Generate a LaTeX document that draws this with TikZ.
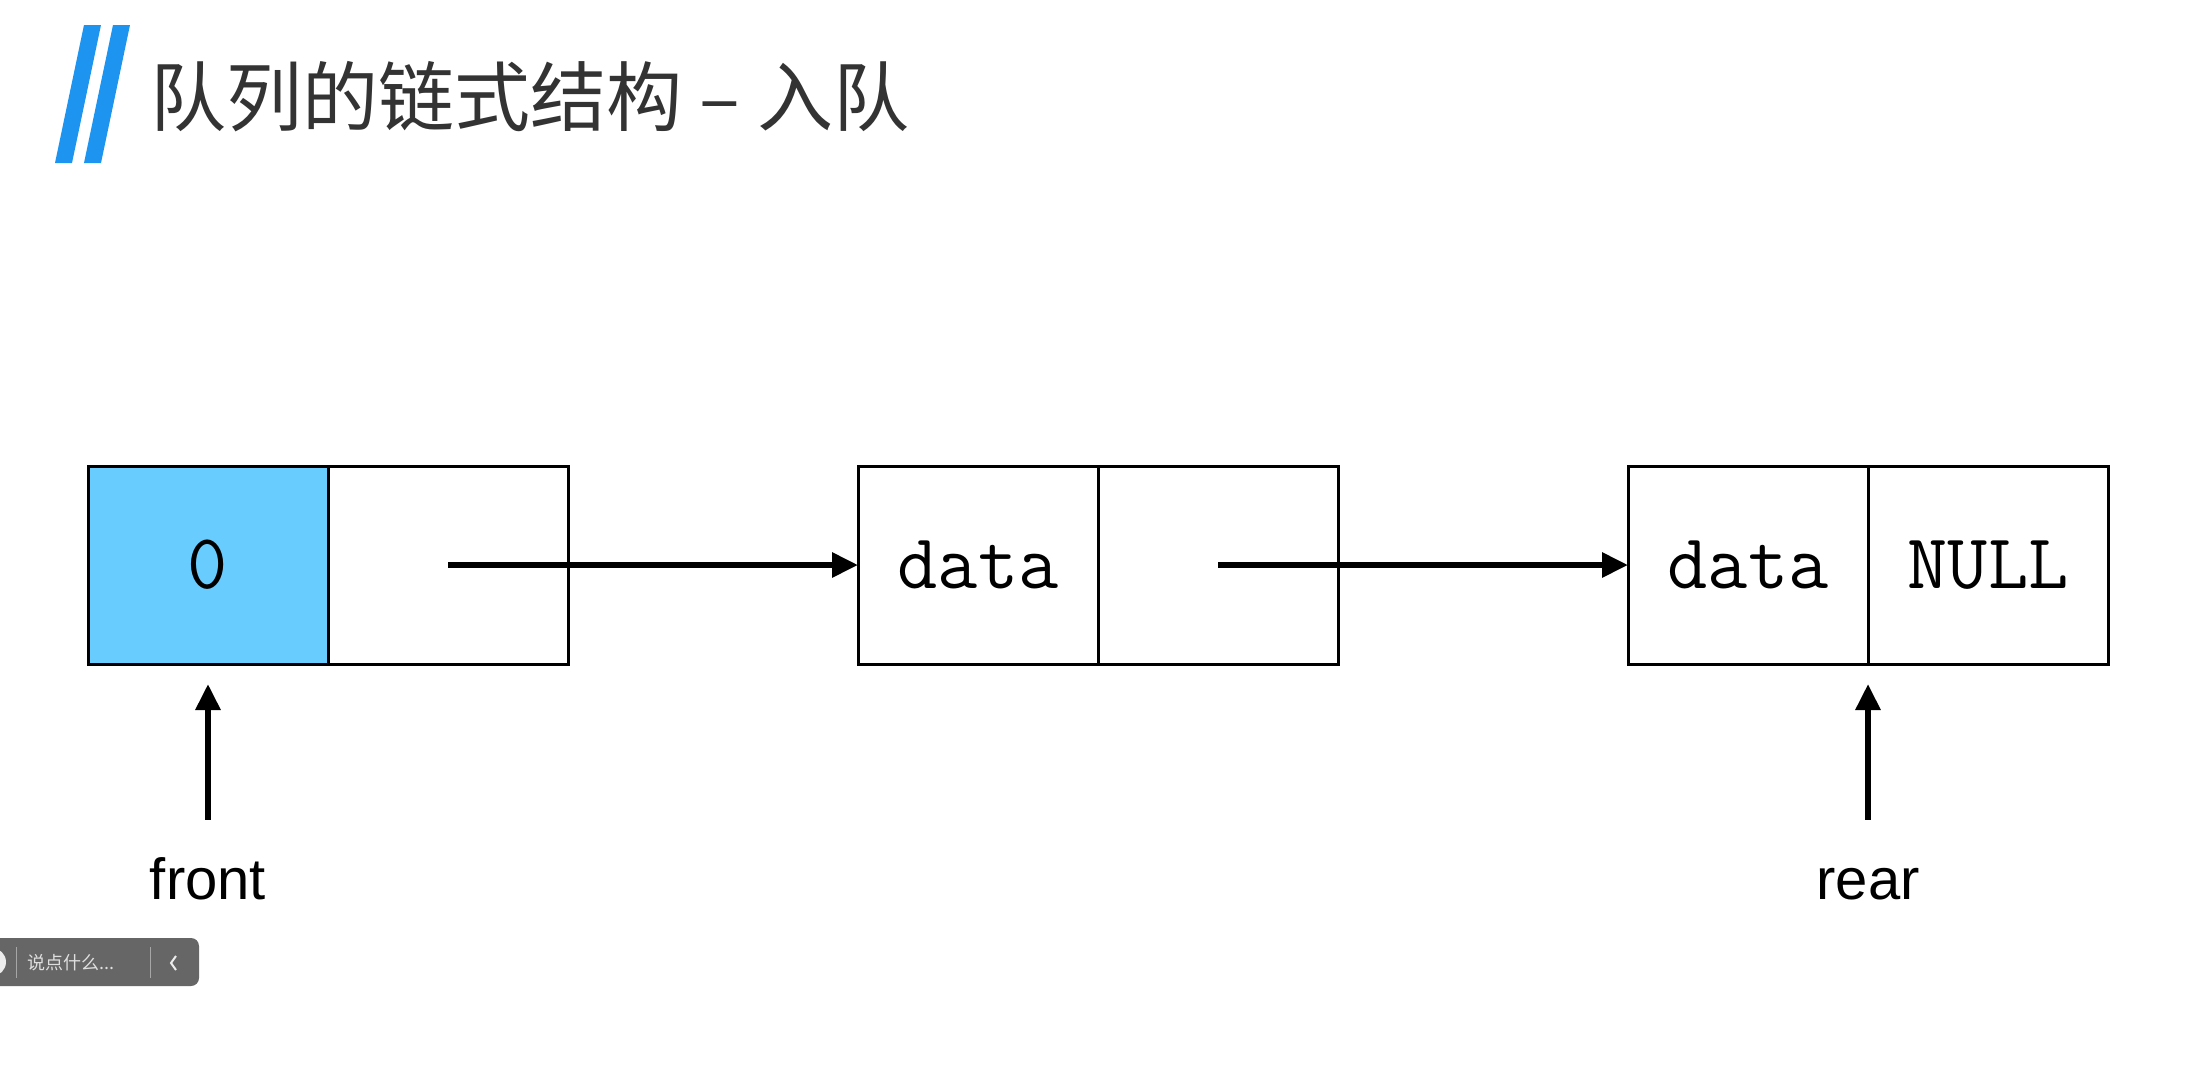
\documentclass[tikz,border=0pt]{standalone}
\usepackage{fontspec}
\setmainfont{Liberation Sans}
\newfontfamily\cjk{Noto Sans CJK SC}
\usetikzlibrary{positioning,arrows.meta}

\definecolor{barblue}{RGB}{28,148,240}
\definecolor{cellblue}{RGB}{104,204,255}
\definecolor{titlegray}{RGB}{51,51,51}
\definecolor{tipgray}{RGB}{102,102,102}

\tikzset{
  cell/.style={shape=rectangle, draw=black, line width=1.5pt, outer sep=0pt, inner sep=0pt,
    minimum width=120pt, minimum height=99pt, font=\ttfamily\fontsize{39pt}{39pt}\selectfont},
  ptr/.style={line width=3pt, -{Triangle[length=13pt,width=12pt]}},
  lbl/.style={font=\fontsize{29pt}{29pt}\selectfont, inner sep=0pt,
    text height=21pt, text depth=0pt, anchor=base},
}

\begin{document}
\begin{tikzpicture}[x=0.5pt,y=-0.5pt]
                \useasboundingbox[fill=white] (0,0) rectangle (2195,1087);

                % title
                \fill[barblue] (55,163) -- (72,163) -- (101,25) -- (84,25) -- cycle;
                \fill[barblue] (84,163) -- (101,163) -- (130,25) -- (113,25) -- cycle;
                \node[anchor=base west, inner sep=0pt, text=titlegray,
                  font=\cjk\fontsize{38pt}{38pt}\selectfont] (title) at (150,125) {队列的链式结构 – 入队};

                % queue nodes
                \node[cell, fill=cellblue] (n1data) at (208,565) {0};
                \node[cell, right=0pt of n1data] (n1next) {};
                \node[cell, right=145pt of n1next] (n2data) {data};
                \node[cell, right=0pt of n2data] (n2next) {};
                \node[cell, right=145pt of n2next] (n3data) {data};
                \node[cell, right=0pt of n3data] (n3next) {NULL};

                \draw[ptr] (n1next.center) -- (n2data.west);
                \draw[ptr] (n2next.center) -- (n3data.west);

                % pointers
                \node[lbl] (front) at (208,899) {front};
                \node[lbl] (rear) at (1868,899) {rear};

                \draw[ptr, shorten <=18.5pt, shorten >=10pt] (front.north) -- (n1data.south);
                \draw[ptr, shorten <=18.5pt, shorten >=10pt] (rear.north) -- (n3data.south east);

                % player comment bar
                \fill[tipgray, rounded corners=4pt] (-20,938) rectangle (199,986);
                \fill[white!85!gray] (-8,962) circle (7pt);
                \draw[gray!70, line width=0.5pt] (16,947) -- (16,978);
                \draw[gray!70, line width=0.5pt] (150,947) -- (150,978);
                \node[anchor=west, inner sep=0pt, text=white!75!gray,
                  font=\cjk\fontsize{9pt}{9pt}\selectfont] (hint) at (27,963) {说点什么...};
                \draw[white!85!gray, line width=1pt] (176,956) -- (171,963) -- (176,970);

            \end{tikzpicture}
\end{document}
